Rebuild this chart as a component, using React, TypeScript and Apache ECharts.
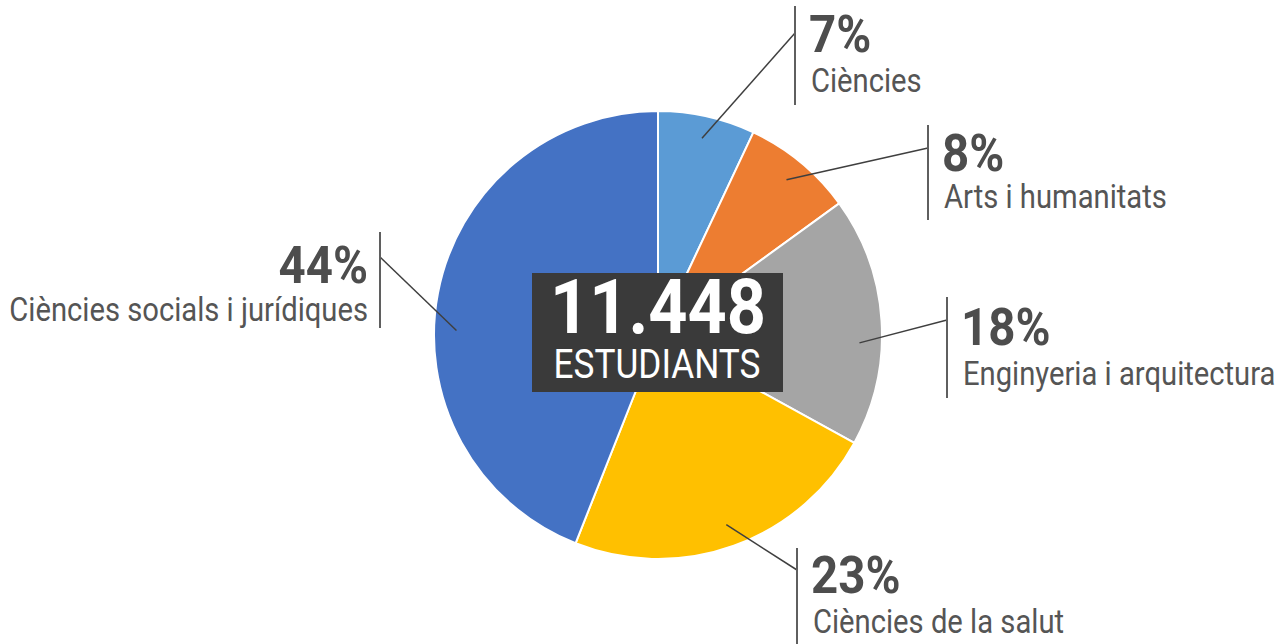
import React, { useEffect, useRef } from "react";
import * as echarts from "echarts";

const categories = [
  "Ciències",
  "Arts i humanitats",
  "Enginyeria i arquitectura",
  "Ciències de la salut",
  "Ciències socials i jurídiques",
];
const shares = [7, 8, 18, 23, 44];
const colors = ["#5B9BD5", "#ED7D31", "#A5A5A5", "#FFC000", "#4472C4"];
const totalLabel = "11.448";
const totalCaption = "ESTUDIANTS";

const CX = 658;
const CY = 335;
const R = 224;
const FONT = "Roboto, 'Liberation Sans', sans-serif";
const NARROW = 0.885;
const NARROW_BOLD = 0.93;

// label placement (layout only); anchor = where in the slice's sweep the leader line starts
const labelPlacement = [
  { barX: 795, top: 6, bottom: 105, lineY: 33, pctY: 34, nameY: 81, side: "right", anchor: 0.5 },
  { barX: 928, top: 125, bottom: 220, lineY: 148, pctY: 153, nameY: 197, side: "right", anchor: 0.5 },
  { barX: 947, top: 297, bottom: 398, lineY: 320, pctY: 327, nameY: 374, side: "right", anchor: 0.59 },
  { barX: 797, top: 548, bottom: 644, lineY: 570, pctY: 575, nameY: 622, side: "right", anchor: 0.5 },
  { barX: 380, top: 232, bottom: 328, lineY: 257, pctY: 265, nameY: 310, side: "left", anchor: 0.44 },
];

export default function App() {
  const ref = useRef<HTMLDivElement>(null);
  useEffect(() => {
    if (!ref.current) return;
    const chart = echarts.init(ref.current, undefined, { renderer: "svg" });
    const total = shares.reduce((a, b) => a + b, 0);
    const graphics: any[] = [];
    let acc = 0;
    shares.forEach((v, i) => {
      const p = labelPlacement[i];
      const ang = ((acc + v * p.anchor) / total) * Math.PI * 2; // clockwise from top
      acc += v;
      const sx = CX + Math.sin(ang) * R * 0.9;
      const sy = CY - Math.cos(ang) * R * 0.9;
      graphics.push({
        type: "line",
        shape: { x1: sx, y1: sy, x2: p.barX, y2: p.lineY },
        style: { stroke: "#3f3f3f", lineWidth: 1.5 },
        z: 10,
      });
      graphics.push({
        type: "line",
        shape: { x1: p.barX, y1: p.top, x2: p.barX, y2: p.bottom },
        style: { stroke: "#5f5f5f", lineWidth: 2 },
        z: 10,
      });
      const right = p.side === "right";
      const tx = right ? p.barX + 14 : p.barX - 12;
      graphics.push({
        type: "text",
        x: tx,
        y: p.pctY,
        scaleX: NARROW_BOLD,
        style: {
          text: v + "%",
          fill: "#4d4d4d",
          font: `bold 51px ${FONT}`,
          align: right ? "left" : "right",
          verticalAlign: "middle",
        },
        z: 10,
      });
      graphics.push({
        type: "text",
        x: tx + (right ? 2 : 0),
        y: p.nameY,
        scaleX: NARROW,
        style: {
          text: categories[i],
          fill: "#555555",
          font: `33px ${FONT}`,
          align: right ? "left" : "right",
          verticalAlign: "middle",
        },
        z: 10,
      });
    });
    graphics.push({
      type: "rect",
      shape: { x: 532, y: 273, width: 251, height: 119 },
      style: { fill: "#3a3a3a" },
      z: 20,
    });
    graphics.push({
      type: "text",
      x: 658,
      y: 307,
      scaleX: 0.9,
      style: {
        text: totalLabel,
        fill: "#ffffff",
        font: `bold 76px ${FONT}`,
        align: "center",
        verticalAlign: "middle",
      },
      z: 21,
    });
    graphics.push({
      type: "text",
      x: 657,
      y: 364,
      scaleX: 0.88,
      style: {
        text: totalCaption,
        fill: "#ffffff",
        font: `40px ${FONT}`,
        align: "center",
        verticalAlign: "middle",
      },
      z: 21,
    });

    chart.setOption({
      animation: false,
      backgroundColor: "#ffffff",
      series: [
        {
          type: "pie",
          center: [CX, CY],
          radius: [0, R],
          startAngle: 90,
          clockwise: true,
          label: { show: false },
          labelLine: { show: false },
          emphasis: { disabled: true },
          itemStyle: { borderColor: "#ffffff", borderWidth: 2 },
          data: categories.map((c, i) => ({
            name: c,
            value: shares[i],
            itemStyle: { color: colors[i] },
          })),
        },
      ],
      graphic: graphics,
    });
    return () => chart.dispose();
  }, []);
  return (
    <div
      ref={ref}
      style={{ position: "fixed", left: 0, top: 0, width: "1284px", height: "644px" }}
    />
  );
}
